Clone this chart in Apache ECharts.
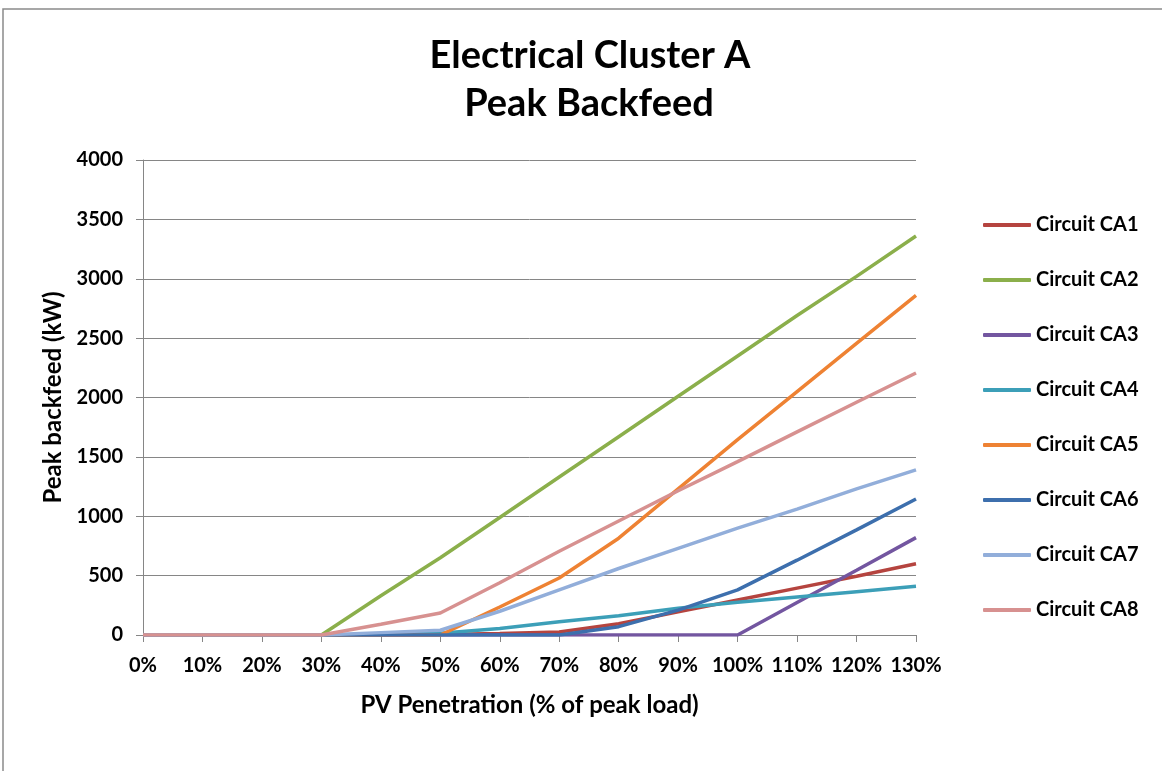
<!DOCTYPE html>
<html>
<head>
<meta charset="utf-8">
<script src="https://cdn.jsdelivr.net/npm/echarts@6/dist/echarts.min.js"></script>
<style>html,body{margin:0;padding:0;background:#fff}#c{width:1162px;height:771px}</style>
</head>
<body>
<div id="c"></div>
<script>
const categories = ['0%','10%','20%','30%','40%','50%','60%','70%','80%','90%','100%','110%','120%','130%'];
const seriesNames = ['Circuit CA1','Circuit CA2','Circuit CA3','Circuit CA4','Circuit CA5','Circuit CA6','Circuit CA7','Circuit CA8'];
const ca1 = [0,0,0,0,0,5,12,25,95,195,295,395,495,600];
const ca2 = [0,0,0,0,330,650,990,1330,1670,2010,2350,2690,3020,3360];
const ca3 = [0,0,0,0,0,0,0,0,0,0,0,273,546,820];
const ca4 = [0,0,0,0,5,15,55,112,163,225,275,320,365,410];
const ca5 = [0,0,0,0,0,0,236,480,815,1230,1645,2050,2455,2860];
const ca6 = [0,0,0,0,0,0,0,0,70,210,380,630,885,1145];
const ca7 = [0,0,0,0,20,40,200,380,560,730,900,1060,1230,1390];
const ca8 = [0,0,0,0,90,185,440,705,960,1215,1460,1710,1960,2206];
const colors = ['#B5443F','#8BAF4B','#7356A0','#3C9FB8','#EE8233','#3D6FAD','#92AEDA','#D79190'];
const titleLines = ['Electrical Cluster A','Peak Backfeed'];
const yTicks = {min:0, max:4000, interval:500};

const dataList = [ca1,ca2,ca3,ca4,ca5,ca6,ca7,ca8];
const FONT = 'Lato';
const chart = echarts.init(document.getElementById('c'));
chart.setOption({
  backgroundColor:'#fff',
  animation:false,
  color: colors,
  graphic:[
    {type:'rect', shape:{x:3,y:9,width:1200,height:800}, style:{fill:'none', stroke:'#8a8a8a', lineWidth:1.5}, silent:true},
    {type:'text', x:590, y:56, style:{text:titleLines[0], textAlign:'center', textVerticalAlign:'middle', font:'bold 38px Lato', fill:'#000'}},
    {type:'text', x:589, y:104, style:{text:titleLines[1], textAlign:'center', textVerticalAlign:'middle', font:'bold 38px Lato', fill:'#000'}}
  ],
  legend: {
    orient:'vertical', left:978, top:208,
    itemWidth:48, itemHeight:4, itemGap:31, icon:'roundRect',
    textStyle:{fontFamily:FONT, fontWeight:'bold', fontSize:20, lineHeight:24, color:'#000'},
    data: seriesNames
  },
  grid:{left:143, right:246, top:160, bottom:136, containLabel:false},
  xAxis:{
    type:'category', data:categories, boundaryGap:false,
    axisLine:{lineStyle:{color:'#868686', width:1}},
    axisTick:{show:true, interval:0, length:7, lineStyle:{color:'#868686'}},
    axisLabel:{interval:0, hideOverlap:false, fontFamily:FONT, fontWeight:'bold', fontSize:20, color:'#000', margin:21},
    name:'PV Penetration (% of peak load)', nameLocation:'middle', nameGap:58,
    nameTextStyle:{fontFamily:FONT, fontWeight:'bold', fontSize:24, color:'#000'}
  },
  yAxis:{
    type:'value', min:yTicks.min, max:yTicks.max, interval:yTicks.interval,
    axisLine:{show:true, lineStyle:{color:'#868686', width:1}},
    axisTick:{show:true, length:7, lineStyle:{color:'#868686'}},
    splitLine:{lineStyle:{color:'#868686', width:1}},
    axisLabel:{fontFamily:FONT, fontWeight:'bold', fontSize:20, color:'#000', margin:20, formatter:v=>String(v)},
    name:'Peak backfeed (kW)', nameLocation:'middle', nameGap:77, nameRotate:90,
    nameTextStyle:{fontFamily:FONT, fontWeight:'bold', fontSize:24, color:'#000'}
  },
  series: seriesNames.map((n,i)=>({
    name:n, type:'line', data:dataList[i], showSymbol:false, symbol:'none',
    lineStyle:{width:3.5, color:colors[i]}, itemStyle:{color:colors[i]}
  }))
});
</script>
</body>
</html>
